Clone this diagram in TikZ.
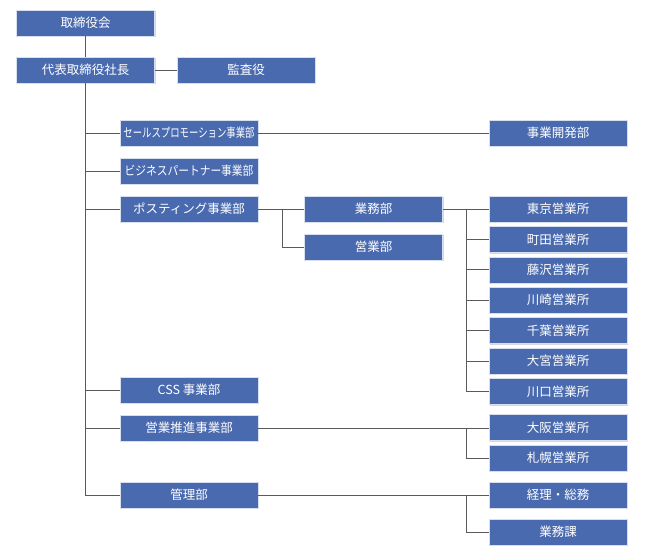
\documentclass[tikz,border=0pt]{standalone}
\usepackage{fontspec}
\setmainfont{Noto Sans CJK JP}
\usetikzlibrary{positioning,shadows,calc}
\definecolor{boxblue}{RGB}{74,106,175}
\definecolor{linegray}{RGB}{90,90,90}
\def\colA{85.5}
\def\colB{189}
\def\colC{373.5}
\def\colD{558}
\def\jsep{22pt}
\newcommand{\squeeze}[2]{\scalebox{#1}[1.0]{#2}}

\begin{document}
\begin{tikzpicture}[x=1pt,y=1pt,draw=linegray,line width=1pt]
    \tikzstyle{unit}=[rectangle,fill=boxblue,draw=white!78!boxblue,line width=0.6pt,
        text=white,minimum width=138pt,minimum height=26pt,inner sep=0pt,
        font=\fontsize{12.5}{14}\selectfont,
        drop shadow={shadow xshift=1.2pt,shadow yshift=-1.2pt,fill=black!30}]
    \tikzstyle{office}=[unit]

    \useasboundingbox (0,0) rectangle (646,-560);

    % Draw the top of the company
    \node[unit] (board) at (\colA,-23) {取締役会};
    \node[unit] (ceo) at (\colA,-70) {代表取締役社長};
    \node[unit, right=\jsep of ceo] (audit) {監査役};

    % Draw the divisions
    \node[unit] (sp) at (\colB,-133) {\squeeze{0.75}{セールスプロモーション事業部}};
    \node[unit] (bp) at (\colB,-171) {\squeeze{0.86}{ビジネスパートナー事業部}};
    \node[unit] (post) at (\colB,-209) {ポスティング事業部};
    \node[unit] (css) at (\colB,-390) {CSS 事業部};
    \node[unit] (promo) at (\colB,-428) {営業推進事業部};
    \node[unit] (kanri) at (\colB,-495) {管理部};

    % Draw the departments
    \node[unit] (gyomu) at (\colC,-209) {業務部};
    \node[unit, below=11.5pt of gyomu] (eigyo) {営業部};
    \node[unit] (newbiz) at (\colD,-133) {事業開発部};

    % Draw the sales offices
    \foreach \name / \label in {1/東京営業所,2/町田営業所,3/藤沢営業所,4/川崎営業所,
                                5/千葉営業所,6/大宮営業所,7/川口営業所}
        \node[office] (O-\name) at (\colD,{-209-30.4*(\name-1)}) {\label};
    \node[office] (osaka) at (\colD,-427.5) {大阪営業所};
    \node[office] (sapporo) at (\colD,-458) {札幌営業所};
    \node[office] (keiri) at (\colD,-495) {経理・総務};
    \node[office] (gyomuka) at (\colD,-532) {業務課};

    % Connect the top
    \draw (board) -- (ceo);
    \draw (ceo) -- (audit);
    \draw (ceo.south) |- (kanri.west);
    \foreach \dest in {sp,bp,post,css,promo}
        \draw (ceo.south |- \dest.west) -- (\dest.west);

    % Connect the divisions with their departments
    \draw (sp) -- (newbiz);
    \draw (post) -- (gyomu);
    \draw ([xshift=-\jsep]gyomu.west) |- (eigyo.west);
    \draw (gyomu) -- (O-1);
    \foreach \dest in {2,...,7}
        \draw ([xshift=-\jsep]O-1.west) |- (O-\dest.west);
    \draw (promo.east) -- (promo.east -| osaka.west);
    \draw ([xshift=-\jsep]osaka.west) |- (sapporo.west);
    \draw (kanri) -- (keiri);
    \draw ([xshift=-\jsep]keiri.west) |- (gyomuka.west);
\end{tikzpicture}
\end{document}
